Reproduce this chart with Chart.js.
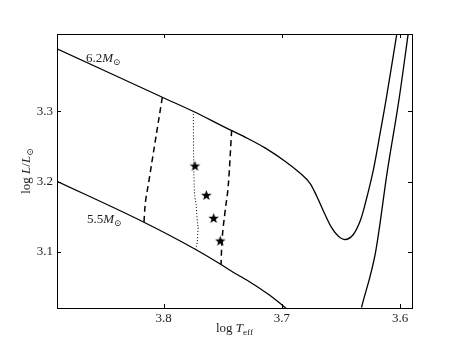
<!DOCTYPE html>
<html>
<head>
<meta charset="utf-8">
<script src="https://cdn.jsdelivr.net/npm/chart.js@4.4.0/dist/chart.umd.min.js"></script>
<style>
html, body { margin: 0; padding: 0; background: #fff; }
#caja { width: 458px; height: 343px; }
</style>
</head>
<body>
<div id="caja"><canvas id="hrd"></canvas></div>
<script>
// 6.2 Msun track
var teff62 = [3.89, 3.801, 3.775, 3.7480, 3.7311, 3.7142, 3.6973, 3.6832, 3.6762, 3.6705, 3.6635, 3.6578, 3.6522, 3.6460, 3.6396, 3.6339, 3.6297, 3.6226, 3.6169, 3.6119, 3.6028]
var lum62 = [3.389, 3.320, 3.300, 3.2772, 3.2633, 3.2479, 3.2289, 3.2100, 3.1975, 3.1791, 3.1531, 3.1341, 3.1222, 3.1175, 3.1246, 3.1435, 3.1673, 3.2171, 3.2693, 3.3166, 3.4105]
// 5.5 Msun track, main part and red branch
var teff55 = [3.89, 3.8165, 3.7728, 3.7514, 3.7446, 3.7277, 3.7108, 3.6973, 3.694]
var lum55 = [3.2004, 3.1421, 3.1033, 3.0819, 3.0744, 3.0578, 3.0388, 3.0208, 3.016]
var teff55b = [3.6327, 3.6207, 3.6109, 3.6010, 3.5932]
var lum55b = [3.0207, 3.1004, 3.2142, 3.3166, 3.4105]
// strip edges
var teffAzul = [3.801, 3.8128, 3.8156, 3.8165]
var lumAzul = [3.320, 3.1957, 3.1649, 3.1421]
var teffRoja = [3.7424, 3.7452, 3.7481, 3.7508, 3.7514]
var lumRoja = [3.273, 3.1957, 3.1555, 3.108, 3.0819]
// dotted line
var teffPunt = [3.7748, 3.7746, 3.7742, 3.7725, 3.7706, 3.7713, 3.7728]
var lumPunt = [3.300, 3.2455, 3.2028, 3.1673, 3.1346, 3.1175, 3.1033]
// stars
var teffEst = [3.7734, 3.7638, 3.7576, 3.7520]
var lumEst = [3.2218, 3.1801, 3.1474, 3.1151]

var ticksX = [3.8, 3.7, 3.6]
var ticksY = [3.1, 3.2, 3.3]

function puntos(xs, ys) {
    var r = []
    for (var i = 0; i < xs.length; i++) r.push({ x: xs[i], y: ys[i] })
    return r
}

function hacerEstrella(rr) {
    var c = document.createElement('canvas')
    var s = Math.ceil(rr * 2) + 2
    c.width = s; c.height = s
    var g = c.getContext('2d')
    g.beginPath()
    for (var i = 0; i < 10; i++) {
        var rad = i % 2 == 0 ? rr : rr * 0.42
        var a = -Math.PI / 2 + i * Math.PI / 5
        g.lineTo(s / 2 + rad * Math.cos(a), s / 2 + rad * Math.sin(a))
    }
    g.closePath()
    g.fillStyle = '#000'
    g.fill()
    return c
}
var estrella = hacerEstrella(5.5)

var serif = "'Liberation Serif', 'DejaVu Serif', serif"

// draws text pieces: normal, italic, subscript
function textoMixto(ctx, partes, x, y, size, alinear) {
    var ancho = 0
    var medidas = []
    for (var p of partes) {
        var f = (p.it ? 'italic ' : '') + (p.sub ? size * 0.7 : size) + 'px ' + serif
        ctx.font = f
        var w = ctx.measureText(p.t).width
        medidas.push([f, w])
        ancho += w
    }
    var cx = alinear == 'center' ? x - ancho / 2 : x
    for (var i = 0; i < partes.length; i++) {
        ctx.font = medidas[i][0]
        ctx.fillText(partes[i].t, cx, y + (partes[i].sub ? size * 0.25 : 0))
        cx += medidas[i][1]
    }
}

var marco = {
    id: 'marco',
    afterDraw: function (chart) {
        var ctx = chart.ctx
        var a = chart.chartArea
        var sx = chart.scales.x, sy = chart.scales.y
        ctx.save()
        ctx.strokeStyle = '#000'
        ctx.lineWidth = 1
        ctx.strokeRect(Math.round(a.left) + 0.5, Math.round(a.top) + 0.5, Math.round(a.right - a.left), Math.round(a.bottom - a.top))
        ctx.beginPath()
        for (var v of ticksX) {
            var px = Math.round(sx.getPixelForValue(v)) + 0.5
            ctx.moveTo(px, a.bottom); ctx.lineTo(px, a.bottom - 4)
            ctx.moveTo(px, a.top); ctx.lineTo(px, a.top + 4)
        }
        for (var v of ticksY) {
            var py = Math.round(sy.getPixelForValue(v)) + 0.5
            ctx.moveTo(a.left, py); ctx.lineTo(a.left + 4, py)
            ctx.moveTo(a.right, py); ctx.lineTo(a.right - 4, py)
        }
        ctx.stroke()

        ctx.fillStyle = '#222'
        ctx.textBaseline = 'alphabetic'
        ctx.textAlign = 'left'
        textoMixto(ctx, [{ t: 'log ' }, { t: 'T', it: true }, { t: 'eff', sub: true }], (a.left + a.right) / 2, 332, 13, 'center')
        ctx.save()
        ctx.translate(30, (a.top + a.bottom) / 2)
        ctx.rotate(-Math.PI / 2)
        textoMixto(ctx, [{ t: 'log ' }, { t: 'L', it: true }, { t: '/' }, { t: 'L', it: true }, { t: '\u2299', sub: true }], 0, 0, 13, 'center')
        ctx.restore()

        textoMixto(ctx, [{ t: '6.2' }, { t: 'M', it: true }, { t: '\u2299', sub: true }], sx.getPixelForValue(3.8655), sy.getPixelForValue(3.3774) + 5, 13, 'left')
        textoMixto(ctx, [{ t: '5.5' }, { t: 'M', it: true }, { t: '\u2299', sub: true }], sx.getPixelForValue(3.8647), sy.getPixelForValue(3.1488) + 5, 13, 'left')
        ctx.restore()
    }
}

function linea(xs, ys, dash, ancho, suave) {
    var d = {
        data: puntos(xs, ys),
        showLine: true,
        borderColor: '#000',
        borderWidth: ancho,
        borderDash: dash,
        pointRadius: 0,
        clip: 0
    }
    if (suave) d.tension = 0.35
    else d.cubicInterpolationMode = 'monotone'
    return d
}

new Chart(document.getElementById('hrd'), {
    type: 'scatter',
    data: {
        datasets: [
            linea(teff62, lum62, [], 1.3, true),
            linea(teff55, lum55, [], 1.3),
            linea(teff55b, lum55b, [], 1.3),
            linea(teffAzul, lumAzul, [6, 4], 1.5),
            linea(teffRoja, lumRoja, [6, 4], 1.5),
            linea(teffPunt, lumPunt, [1, 2], 1),
            {
                data: puntos(teffEst, lumEst),
                showLine: false,
                pointStyle: estrella,
                pointRadius: 5,
                clip: 0
            }
        ]
    },
    options: {
        responsive: true,
        maintainAspectRatio: false,
        animation: false,
        devicePixelRatio: 1,
        layout: { padding: { top: 34, right: 46, left: 0, bottom: 0 } },
        plugins: { legend: { display: false }, tooltip: { enabled: false } },
        scales: {
            x: {
                type: 'linear',
                reverse: true,
                min: 3.59,
                max: 3.89,
                afterBuildTicks: function (s) { s.ticks = ticksX.map(function (v) { return { value: v } }) },
                afterFit: function (s) { s.height = 35 },
                grid: { display: false, drawTicks: false },
                border: { display: false },
                ticks: {
                    padding: 3,
                    color: '#222',
                    font: { family: serif, size: 13 },
                    callback: function (v) { return v.toFixed(1) }
                }
            },
            y: {
                type: 'linear',
                min: 3.02,
                max: 3.41,
                afterBuildTicks: function (s) { s.ticks = ticksY.map(function (v) { return { value: v } }) },
                afterFit: function (s) { s.width = 57 },
                grid: { display: false, drawTicks: false },
                border: { display: false },
                ticks: {
                    padding: 4,
                    color: '#222',
                    font: { family: serif, size: 13 },
                    callback: function (v) { return v.toFixed(1) }
                }
            }
        }
    },
    plugins: [marco]
});
</script>
</body>
</html>
